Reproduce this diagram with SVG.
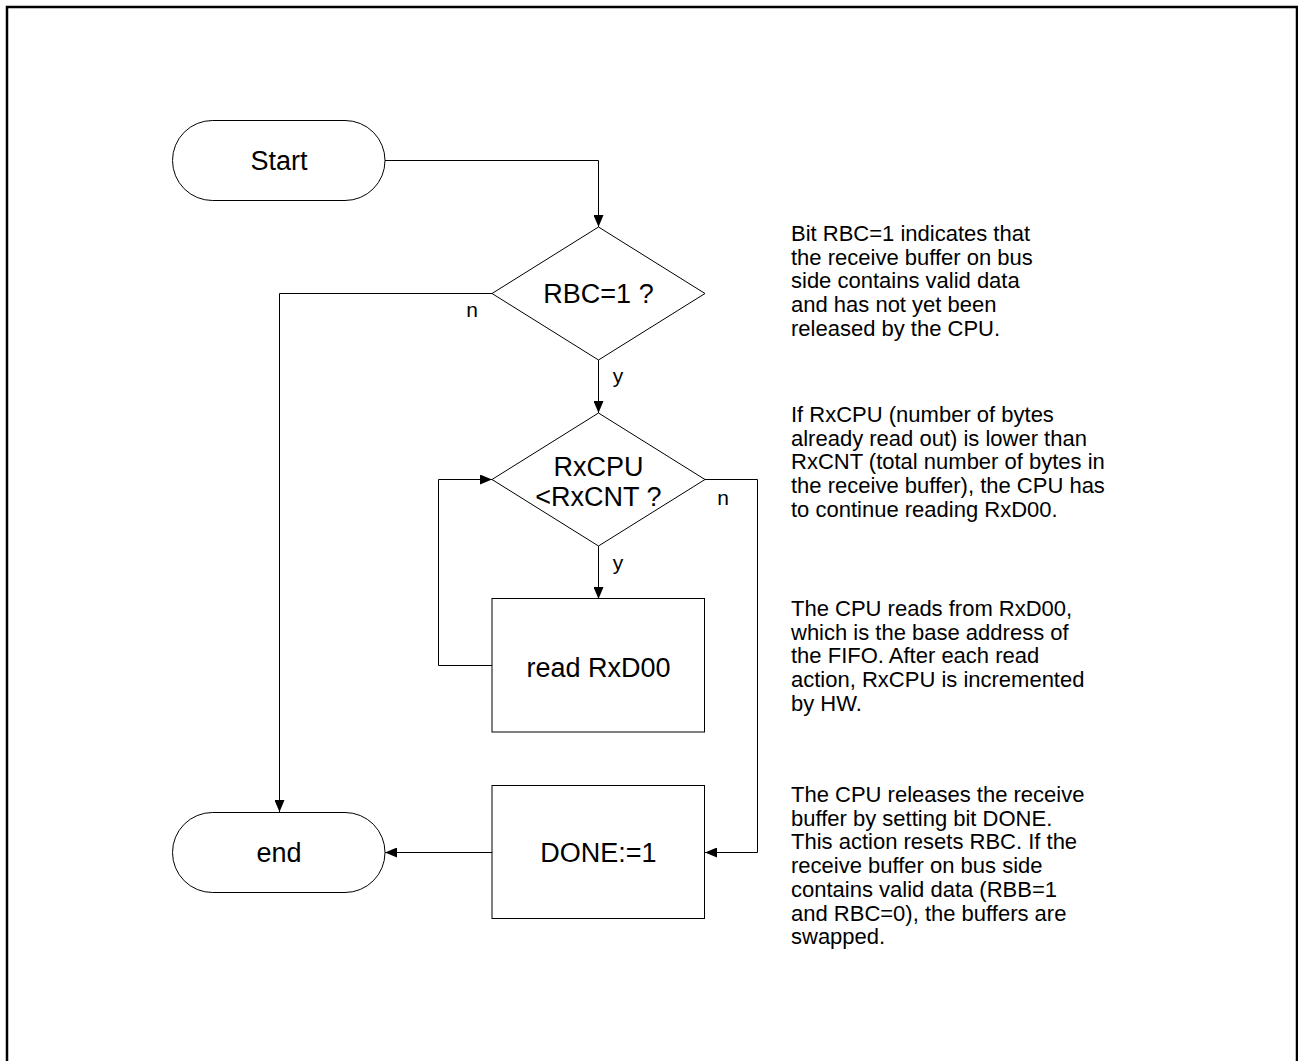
<svg xmlns="http://www.w3.org/2000/svg" width="1298" height="1061" viewBox="0 0 1298 1061">
<style>
.node{fill:#fff;stroke:#000;stroke-width:1}
.lbl{font-family:"Liberation Sans",Arial,sans-serif;font-size:27px;fill:#000;text-anchor:middle}
.edge{fill:none;stroke:#000;stroke-width:1}
.el{font-family:"Liberation Sans",Arial,sans-serif;font-size:21px;fill:#000;text-anchor:middle}
.note{font-family:"Liberation Sans",Arial,sans-serif;font-size:22px;fill:#000}
</style>
<defs>
<marker id="arr" markerUnits="userSpaceOnUse" markerWidth="12" markerHeight="10" refX="12" refY="5" orient="auto">
<path d="M0,0 L12,5 L0,10 Z" fill="#000"/>
</marker>
</defs>
<rect x="7" y="7" width="1290" height="1100" fill="#fff" stroke="#000" stroke-width="2.5"/>
<g id="connectors">
<path class="edge" d="M385,160.5 H598.5 V227" marker-end="url(#arr)"/>
<path class="edge" d="M492,293.5 H279.5 V812" marker-end="url(#arr)"/>
<path class="edge" d="M598.5,360 V413" marker-end="url(#arr)"/>
<path class="edge" d="M598.5,546 V599" marker-end="url(#arr)"/>
<path class="edge" d="M492,665.5 H438.5 V479.5 H492" marker-end="url(#arr)"/>
<path class="edge" d="M705,479.5 H757.5 V852.5 H705" marker-end="url(#arr)"/>
<path class="edge" d="M492,852.5 H385" marker-end="url(#arr)"/>
<text class="el" x="472" y="317">n</text>
<text class="el" x="618" y="383">y</text>
<text class="el" x="723" y="505">n</text>
<text class="el" x="618" y="570">y</text>
</g>
<g id="start">
<rect class="node" x="172.5" y="120.5" width="212.5" height="80" rx="40" ry="40"/>
<text class="lbl" x="279" y="169.5">Start</text>
</g>
<g id="rbc">
<polygon class="node" points="598.5,227 705,293.5 598.5,360 492,293.5"/>
<text class="lbl" x="598.5" y="302.5">RBC=1 ?</text>
</g>
<g id="rxcpu">
<polygon class="node" points="598.5,413 705,479.5 598.5,546 492,479.5"/>
<text class="lbl" x="598.5" y="475.5">RxCPU</text>
<text class="lbl" x="598.5" y="505.5">&lt;RxCNT ?</text>
</g>
<g id="read">
<rect class="node" x="492" y="598.5" width="212.5" height="133.5"/>
<text class="lbl" x="598.5" y="676.5">read RxD00</text>
</g>
<g id="done">
<rect class="node" x="492" y="785.5" width="212.5" height="133"/>
<text class="lbl" x="598.5" y="861.5">DONE:=1</text>
</g>
<g id="end">
<rect class="node" x="172.5" y="812.5" width="212.5" height="80" rx="40" ry="40"/>
<text class="lbl" x="279" y="861.5">end</text>
</g>
<g id="notes">
<text class="note" x="791" y="241">
<tspan x="791">Bit RBC=1 indicates that</tspan>
<tspan x="791" dy="23.7">the receive buffer on bus</tspan>
<tspan x="791" dy="23.7">side contains valid data</tspan>
<tspan x="791" dy="23.7">and has not yet been</tspan>
<tspan x="791" dy="23.7">released by the CPU.</tspan>
</text>
<text class="note" x="791" y="422">
<tspan x="791">If RxCPU (number of bytes</tspan>
<tspan x="791" dy="23.7">already read out) is lower than</tspan>
<tspan x="791" dy="23.7">RxCNT (total number of bytes in</tspan>
<tspan x="791" dy="23.7">the receive buffer), the CPU has</tspan>
<tspan x="791" dy="23.7">to continue reading RxD00.</tspan>
</text>
<text class="note" x="791" y="616">
<tspan x="791">The CPU reads from RxD00,</tspan>
<tspan x="791" dy="23.7">which is the base address of</tspan>
<tspan x="791" dy="23.7">the FIFO. After each read</tspan>
<tspan x="791" dy="23.7">action, RxCPU is incremented</tspan>
<tspan x="791" dy="23.7">by HW.</tspan>
</text>
<text class="note" x="791" y="802">
<tspan x="791">The CPU releases the receive</tspan>
<tspan x="791" dy="23.7">buffer by setting bit DONE.</tspan>
<tspan x="791" dy="23.7">This action resets RBC. If the</tspan>
<tspan x="791" dy="23.7">receive buffer on bus side</tspan>
<tspan x="791" dy="23.7">contains valid data (RBB=1</tspan>
<tspan x="791" dy="23.7">and RBC=0), the buffers are</tspan>
<tspan x="791" dy="23.7">swapped.</tspan>
</text>
</g>
</svg>
